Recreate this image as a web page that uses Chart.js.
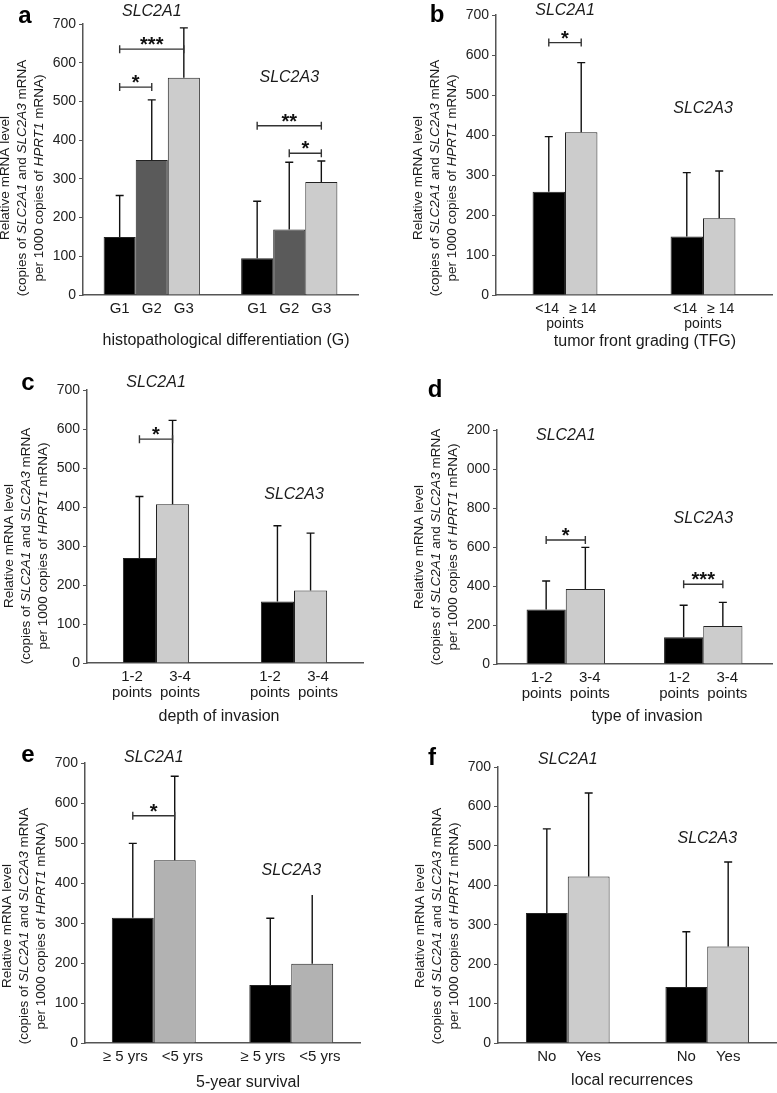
<!DOCTYPE html>
<html>
<head>
<meta charset="utf-8">
<script src="https://cdn.jsdelivr.net/npm/chart.js@4.4.1/dist/chart.umd.min.js"></script>
<style>
html,body{margin:0;padding:0;background:#fff;}
#fig{position:relative;width:777px;height:1093px;overflow:hidden;}
.panel{position:absolute;}
</style>
</head>
<body>
<div id="fig"></div>
<script>
const FONT="Arial, 'Liberation Sans', sans-serif";
const genes=["SLC2A1","SLC2A3"];

// a - histopathological differentiation
const aSub=["G1","G2","G3"];
const aMean=[[150,95],[349,169],[561,292]];
const aUpper=[[257,242],[504,343],[690,346]];
const aGeneY=[733,561];
const aSig=[
    {gene:0,from:0,to:2,y:635,text:"***"},
    {gene:0,from:0,to:1,y:537,text:"*"},
    {gene:1,from:0,to:2,y:437,text:"**"},
    {gene:1,from:1,to:2,y:366,text:"*"}
];

// b - tumor front grading
const bSub=["<14","≥ 14"];
const bMean=[[258,146],[407,192]];
const bUpper=[[396,306],[581,310]];
const bGeneY=[710,467];
const bSig=[{gene:0,from:0,to:1,y:631,text:"*"}];

// c - depth of invasion
const cSub=["1-2","3-4"];
const cMean=[[269,158],[407,186]];
const cUpper=[[427,352],[622,333]];
const cGeneY=[718,433];
const cSig=[{gene:0,from:0,to:1,y:574,text:"*"}];

// d - type of invasion
const dSub=["1-2","3-4"];
const dMean=[[280,137],[385,195]];
const dUpper=[[426,301],[598,316]];
const dGeneY=[1174,747];
const dSig=[
    {gene:0,from:0,to:1,y:636,text:"*"},
    {gene:1,from:0,to:1,y:409,text:"***"}
];
const dTickText=["0","200","400","600","800","000","200"];

// e - 5-year survival
const eSub=["≥ 5 yrs","<5 yrs"];
const eMean=[[313,145],[457,198]];
const eUpper=[[499,312],[667,370]];
const eGeneY=[713,431];
const eSig=[{gene:0,from:0,to:1,y:568,text:"*"}];
const eNoCap=[[1,1]];

// f - local recurrences
const fSub=["No","Yes"];
const fMean=[[330,142],[422,245]];
const fUpper=[[543,282],[634,459]];
const fGeneY=[718,519];
const fSig=[];

const grey2=["#000000","#cccccc"];

const decor={
    id:"decor",
    afterDatasetsDraw(chart,args,o){
        const ctx=chart.ctx;
        const ys=chart.scales.y;
        const bar=(i,j)=>chart.getDatasetMeta(i).data[j];
        ctx.save();
        ctx.strokeStyle="#111";
        ctx.lineWidth=1.4;
        // error bars
        o.upper.forEach((row,i)=>row.forEach((v,j)=>{
            const b=bar(i,j);
            const top=ys.getPixelForValue(v);
            ctx.beginPath();
            ctx.moveTo(b.x,b.y);
            ctx.lineTo(b.x,top);
            const noCap=(o.noCap||[]).some(c=>c[0]==i&&c[1]==j);
            if(!noCap){
                ctx.moveTo(b.x-4,top);
                ctx.lineTo(b.x+4,top);
            }
            ctx.stroke();
        }));
        // significance brackets
        ctx.strokeStyle="#333";
        ctx.fillStyle="#111";
        o.sig.forEach(s=>{
            const x1=bar(s.from,s.gene).x, x2=bar(s.to,s.gene).x;
            const yy=ys.getPixelForValue(s.y);
            ctx.beginPath();
            ctx.moveTo(x1,yy);ctx.lineTo(x2,yy);
            ctx.moveTo(x1,yy-4);ctx.lineTo(x1,yy+4);
            ctx.moveTo(x2,yy-4);ctx.lineTo(x2,yy+4);
            ctx.stroke();
            ctx.font="bold 20px "+FONT;
            ctx.textAlign="center";
            ctx.textBaseline="alphabetic";
            ctx.fillText(s.text,(x1+x2)/2,yy+2);
        });
        ctx.restore();
    },
    afterDraw(chart,args,o){
        const ctx=chart.ctx;
        const ys=chart.scales.y;
        const area=chart.chartArea;
        const n=chart.data.datasets.length;
        const bar=(i,j)=>chart.getDatasetMeta(i).data[j];
        ctx.save();
        ctx.fillStyle="#1a1a1a";
        ctx.textAlign="center";

        // gene names
        ctx.font="italic 16px "+FONT;
        ctx.textBaseline="middle";
        genes.forEach((g,j)=>{
            const cx=(bar(0,j).x+bar(n-1,j).x)/2;
            ctx.fillText(g,cx,ys.getPixelForValue(o.geneY[j]));
        });

        // labels under bars
        ctx.font=o.subSize+"px "+FONT;
        genes.forEach((g,j)=>{
            const cx=(bar(0,j).x+bar(n-1,j).x)/2;
            chart.data.datasets.forEach((ds,i)=>{
                const lx=cx+(bar(i,j).x-cx)*o.spread;
                ctx.fillText(ds.label,lx,area.bottom+14);
                if(o.sub2Each) ctx.fillText(o.sub2Each,lx,area.bottom+30);
            });
            if(o.sub2Group) ctx.fillText(o.sub2Group,cx,area.bottom+29);
        });

        // x axis title
        ctx.font="16px "+FONT;
        ctx.fillText(o.xTitle,o.xTitlePos[0],o.xTitlePos[1]);

        // panel letter
        ctx.font="bold 24px "+FONT;
        ctx.textBaseline="alphabetic";
        ctx.fillStyle="#000";
        ctx.fillText(o.letter,o.letterPos[0],o.letterPos[1]);

        // y axis title, three lines with italic gene names
        const lines=[
            [["Relative mRNA level",""]],
            [["(copies of ",""],["SLC2A1","italic "],[" and ",""],["SLC2A3","italic "],[" mRNA",""]],
            [["per 1000 copies of ",""],["HPRT1","italic "],[" mRNA)",""]]
        ];
        const offs=[78,61,44];
        ctx.fillStyle="#1a1a1a";
        ctx.textBaseline="middle";
        ctx.textAlign="left";
        lines.forEach((segs,k)=>{
            let w=0;
            segs.forEach(s=>{ctx.font=s[1]+"13.5px "+FONT;w+=ctx.measureText(s[0]).width;});
            ctx.save();
            ctx.translate(area.left-offs[k],area.bottom-117);
            ctx.rotate(-Math.PI/2);
            let x=-w/2;
            segs.forEach(s=>{
                ctx.font=s[1]+"13.5px "+FONT;
                ctx.fillText(s[0],x,0);
                x+=ctx.measureText(s[0]).width;
            });
            ctx.restore();
        });
        ctx.restore();
    }
};

function drawPanel(p){
    const div=document.createElement("div");
    div.className="panel";
    div.style.left=p.left+"px";
    div.style.top=p.top+"px";
    div.style.width=p.w+"px";
    div.style.height=p.h+"px";
    const cv=document.createElement("canvas");
    div.appendChild(cv);
    document.getElementById("fig").appendChild(div);

    return new Chart(cv,{
        type:"bar",
        data:{
            labels:genes,
            datasets:p.sub.map((s,i)=>({
                label:s,
                data:p.mean[i],
                backgroundColor:p.colors[i],
                borderColor:"#222",
                borderWidth:1,
                barPercentage:1,
                categoryPercentage:p.cat
            }))
        },
        options:{
            responsive:true,
            maintainAspectRatio:false,
            animation:false,
            layout:{padding:{top:p.area[1],right:p.w-p.area[2],left:0,bottom:0}},
            plugins:{
                legend:{display:false},
                tooltip:{enabled:false},
                decor:{
                    upper:p.upper,
                    sig:p.sig,
                    noCap:p.noCap,
                    geneY:p.geneY,
                    subSize:p.subSize,
                    spread:p.spread||1,
                    sub2Each:p.sub2Each,
                    sub2Group:p.sub2Group,
                    xTitle:p.xTitle,
                    xTitlePos:p.xTitlePos,
                    letter:p.letter,
                    letterPos:p.letterPos
                }
            },
            scales:{
                x:{
                    grid:{display:false},
                    ticks:{display:false},
                    border:{color:"#555",width:1.5},
                    afterFit:s=>{s.height=p.h-p.area[3];}
                },
                y:{
                    min:0,
                    max:p.max,
                    ticks:{
                        stepSize:p.step,
                        color:"#222",
                        font:{size:14,family:FONT},
                        padding:3,
                        callback:p.tickFmt||(v=>v)
                    },
                    grid:{drawOnChartArea:false,tickLength:4,color:"#555"},
                    border:{color:"#555",width:1.5},
                    afterFit:s=>{s.width=p.area[0];}
                }
            }
        },
        plugins:[decor]
    });
}

drawPanel({left:0,top:0,w:390,h:360,area:[83,24,358,295],max:700,step:100,
    sub:aSub,mean:aMean,upper:aUpper,sig:aSig,geneY:aGeneY,
    colors:["#000000","#5a5a5a","#cccccc"],cat:0.7,subSize:15,
    xTitle:"histopathological differentiation (G)",xTitlePos:[226,341],
    letter:"a",letterPos:[25,23]});

drawPanel({left:390,top:0,w:387,h:360,area:[106,15,382,295],max:700,step:100,
    sub:bSub,mean:bMean,upper:bUpper,sig:bSig,geneY:bGeneY,
    colors:grey2,cat:0.47,subSize:14,spread:1.1,sub2Group:"points",
    xTitle:"tumor front grading (TFG)",xTitlePos:[255,342],
    letter:"b",letterPos:[47,22]});

drawPanel({left:0,top:350,w:390,h:380,area:[87,40,363,313],max:700,step:100,
    sub:cSub,mean:cMean,upper:cUpper,sig:cSig,geneY:cGeneY,
    colors:grey2,cat:0.48,subSize:15,spread:1.45,sub2Each:"points",
    xTitle:"depth of invasion",xTitlePos:[219,367],
    letter:"c",letterPos:[28,40]});

drawPanel({left:390,top:350,w:387,h:380,area:[107,80,382,314],max:1200,step:200,
    sub:dSub,mean:dMean,upper:dUpper,sig:dSig,geneY:dGeneY,
    colors:grey2,cat:0.57,subSize:15,spread:1.23,sub2Each:"points",
    tickFmt:v=>dTickText[v/200],
    xTitle:"type of invasion",xTitlePos:[257,367],
    letter:"d",letterPos:[45,47]});

drawPanel({left:0,top:720,w:390,h:373,area:[85,43,360,323],max:700,step:100,
    sub:eSub,mean:eMean,upper:eUpper,sig:eSig,geneY:eGeneY,noCap:eNoCap,
    colors:["#000000","#b2b2b2"],cat:0.61,subSize:15,spread:1.36,
    xTitle:"5-year survival",xTitlePos:[248,363],
    letter:"e",letterPos:[28,42]});

drawPanel({left:390,top:720,w:387,h:373,area:[108,47,387,323],max:700,step:100,
    sub:fSub,mean:fMean,upper:fUpper,sig:fSig,geneY:fGeneY,
    colors:grey2,cat:0.6,subSize:15,
    xTitle:"local recurrences",xTitlePos:[242,361],
    letter:"f",letterPos:[42,45]});
</script>
</body>
</html>
